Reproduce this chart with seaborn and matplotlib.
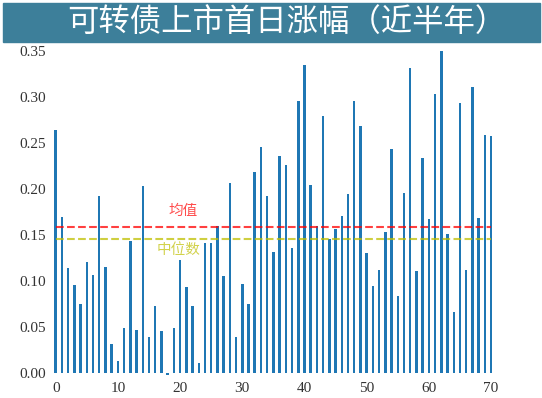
import numpy as np
import seaborn as sns
import matplotlib.pyplot as plt
from matplotlib.patches import Rectangle

# 可转债上市首日涨幅
days = list(range(71))
gains = [0.264, 0.169, 0.114, 0.095, 0.075, 0.120, 0.106, 0.192, 0.115, 0.031,
         0.013, 0.049, 0.143, 0.046, 0.203, 0.039, 0.072, 0.045, -0.003, 0.049,
         0.123, 0.093, 0.072, 0.011, 0.141, 0.141, 0.159, 0.105, 0.206, 0.039,
         0.096, 0.075, 0.218, 0.245, 0.192, 0.131, 0.235, 0.226, 0.135, 0.295,
         0.334, 0.204, 0.159, 0.279, 0.145, 0.156, 0.170, 0.194, 0.295, 0.268,
         0.130, 0.094, 0.112, 0.153, 0.243, 0.083, 0.195, 0.331, 0.110, 0.233,
         0.167, 0.303, 0.350, 0.151, 0.066, 0.293, 0.112, 0.311, 0.168, 0.258,
         0.257]
mean_val = 0.1586
median_val = 0.1455
title = '可转债上市首日涨幅（近半年）'

sns.set_style('white')
plt.rcParams['font.family'] = ['Noto Sans CJK SC', 'DejaVu Sans']

fig = plt.figure(figsize=(5.42, 3.98), dpi=100)
ax = fig.add_axes([0.0959, 0.0543, 0.817, 0.830])

sns.barplot(x=days, y=gains, color='#1f77b4', saturation=1, width=0.4,
            native_scale=True, linewidth=0, ax=ax)

ax.hlines(mean_val, 0, 70, colors='r', linestyles='--', alpha=0.75, lw=1.5)
ax.hlines(median_val, 0, 70, colors='y', linestyles='--', alpha=0.75, lw=1.5)
ax.text(20.5, 0.176, '均值', color='r', alpha=0.7, fontsize=10.5,
        ha='center', va='center')
ax.text(19.8, 0.133, '中位数', color='y', alpha=0.7, fontsize=10.5,
        ha='center', va='center')

ax.set_xlim(-0.6, 70.6)
ax.set_ylim(-0.004, 0.355)
ax.set_xticks(range(0, 71, 10))
ax.set_yticks(np.arange(0, 0.351, 0.05))
ax.set_yticklabels([f'{v:.2f}' for v in np.arange(0, 0.351, 0.05)])
for lab in ax.get_xticklabels() + ax.get_yticklabels():
    lab.set_family('Liberation Serif')
    lab.set_fontsize(11)
    lab.set_color('#333333')
ax.tick_params(length=0, pad=4)
sns.despine(ax=ax, left=True, bottom=True)

# title bar
fig.patches.append(Rectangle((3 / 542, 1 - 42 / 398), 537 / 542, 39 / 398,
                             transform=fig.transFigure, color='#3d7f9a',
                             zorder=0))
fig.text(287 / 542, 1 - 22 / 398, title, color='white', fontsize=22.6,
         ha='center', va='center', fontweight='light')

fig.savefig('out.png', dpi=100)
